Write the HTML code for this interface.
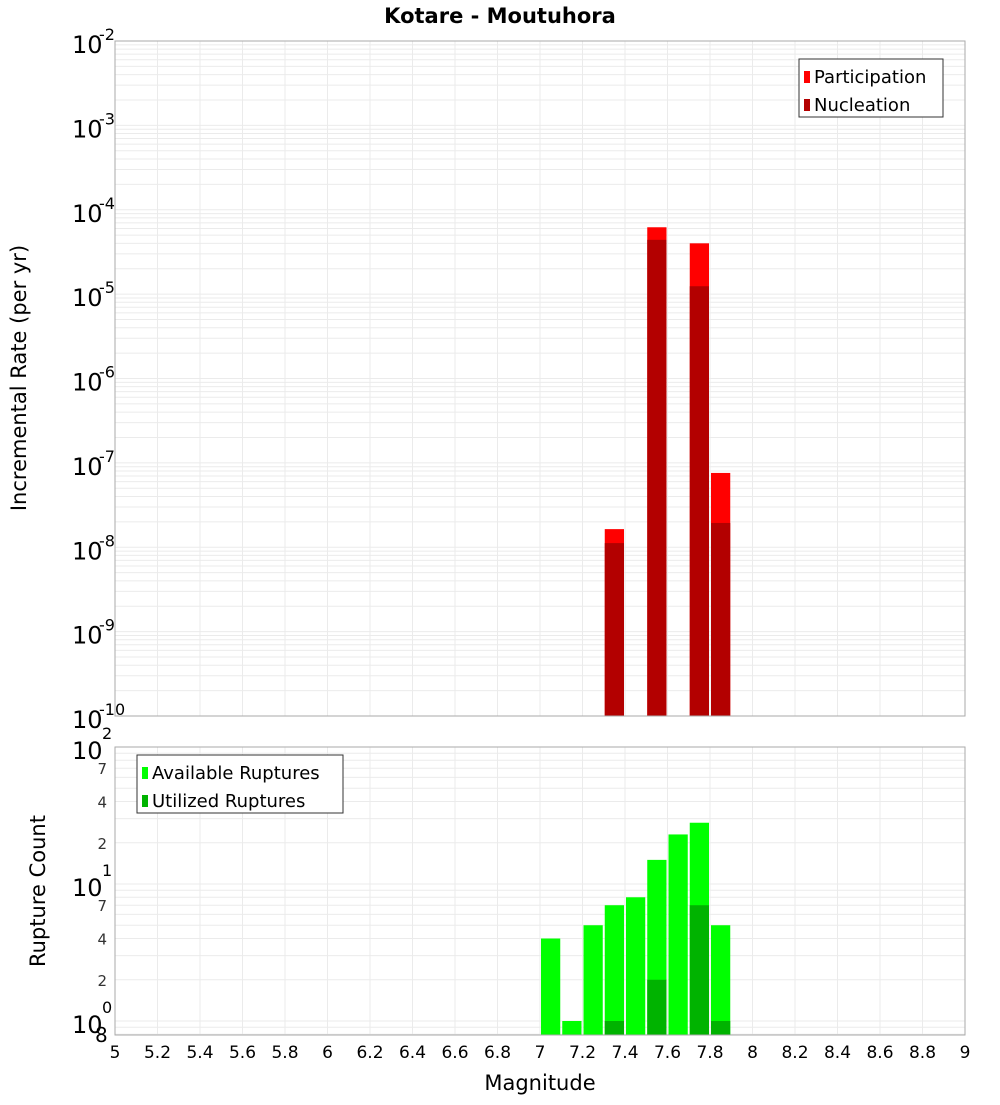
<!DOCTYPE html>
<html><head><meta charset="utf-8"><style>
body{margin:0;background:#fff;}
svg{font-family:"DejaVu Sans","Liberation Sans",sans-serif;}
</style></head><body>
<svg id="c" width="1000" height="1100" xmlns="http://www.w3.org/2000/svg"></svg>
<script>
const magBins=[7.35,7.55,7.75,7.85];
const participation=[1.64e-8,6.2e-5,4.0e-5,7.6e-8];
const nucleation=[1.12e-8,4.4e-5,1.24e-5,1.94e-8];
const countBins=[7.05,7.15,7.25,7.35,7.45,7.55,7.65,7.75,7.85];
const available=[4,1,5,7,8,15,23,28,5];
const utilized=[0,0,0,1,0,2,0,7,1];
const xTicks=["5","5.2","5.4","5.6","5.8","6","6.2","6.4","6.6","6.8","7","7.2","7.4","7.6","7.8","8","8.2","8.4","8.6","8.8","9"];

const svg=document.getElementById('c');
const NS='http://www.w3.org/2000/svg';
function mk(t,a,p){const e=document.createElementNS(NS,t);for(const k in a)e.setAttribute(k,a[k]);(p||svg).appendChild(e);return e;}
const X0=115,X1=965;
const x=m=>X0+(m-5)/4*(X1-X0);
const T0=41,T1=716;
const yT=v=>T1-(Math.log10(v)+10)/8*(T1-T0);
const B0=747,B1=1035,BD=137;
const yB=v=>B0+(2-Math.log10(v))*BD;

// plot backgrounds
mk('rect',{x:X0,y:T0,width:X1-X0,height:T1-T0,fill:'#fff'});
mk('rect',{x:X0,y:B0,width:X1-X0,height:B1-B0,fill:'#fff'});
// grids
const g=mk('g',{stroke:'#ebebeb','stroke-width':1});


for(let i=0;i<=20;i++){const xx=x(5+i*0.2);mk('line',{x1:xx,x2:xx,y1:T0,y2:T1},g);mk('line',{x1:xx,x2:xx,y1:B0,y2:B1},g);}
for(let d=-10;d<-2;d++)for(let k=1;k<10;k++){const yy=yT(k*Math.pow(10,d));mk('line',{x1:X0,x2:X1,y1:yy,y2:yy},g);}
for(let d=-1;d<2;d++)for(let k=1;k<10;k++){const yy=yB(k*Math.pow(10,d));if(yy<=B1&&yy>=B0)mk('line',{x1:X0,x2:X1,y1:yy,y2:yy},g);}

// top bars
magBins.forEach((m,i)=>{
 const r=mk('rect',{x:x(m-0.05)+1,y:yT(participation[i]),width:x(m+0.05)-x(m-0.05)-2,height:T1-yT(participation[i]),fill:'#ff0000'});
 
 
 const n=mk('rect',{x:x(m-0.05)+1,y:yT(nucleation[i]),width:x(m+0.05)-x(m-0.05)-2,height:T1-yT(nucleation[i]),fill:'#b30000'});
 
 
});
// bottom bars
countBins.forEach((m,i)=>{
 const a=mk('rect',{x:x(m-0.05)+1,y:yB(available[i]),width:x(m+0.05)-x(m-0.05)-2,height:B1-yB(available[i]),fill:'#00ff00'});
 
 
 if(utilized[i]>0){
 const u=mk('rect',{x:x(m-0.05)+1,y:yB(utilized[i]),width:x(m+0.05)-x(m-0.05)-2,height:B1-yB(utilized[i]),fill:'#00b300'});
 
 }
});
// frames
mk('rect',{x:X0,y:T0,width:X1-X0,height:T1-T0,fill:'none',stroke:'#aaa'});
mk('rect',{x:X0,y:B0,width:X1-X0,height:B1-B0,fill:'none',stroke:'#aaa'});

// x ticks
xTicks.forEach((t,i)=>{const tx=mk('text',{x:x(+t),y:1058,'font-size':17,'text-anchor':'middle',fill:'#000'});tx.textContent=t;
 
 });

// top y labels
for(let d=-10;d<=-2;d++){const yy=yT(Math.pow(10,d));
 const t=mk('text',{x:72,y:yy+12,'font-size':24,fill:'#000'});
 t.textContent='10';
 
 
 const s=mk('text',{x:99,y:yy-1,'font-size':16,fill:'#000'});s.textContent=String(d);}
// bottom y labels
[[100,'10','2'],[10,'10','1'],[1,'10','0']].forEach(([v,b,e])=>{const yy=yB(v);
 const t=mk('text',{x:72,y:yy+12,'font-size':24,fill:'#000'});t.textContent=b;
 
 
 const s=mk('text',{x:102,y:yy-8,'font-size':16,fill:'#000'});s.textContent=e;});
[[70,'7'],[40,'4'],[20,'2'],[7,'7'],[4,'4'],[2,'2']].forEach(([v,l])=>{const t=mk('text',{x:107,y:yB(v)+6,'font-size':15,'text-anchor':'end',fill:'#333'});t.textContent=l;});
{const t=mk('text',{x:95,y:1042,'font-size':20,fill:'#000'});t.textContent='8';}

// titles
{const t=mk('text',{x:500,y:23,'font-size':21,'font-weight':'bold','text-anchor':'middle',fill:'#000'});t.textContent='Kotare - Moutuhora';
 }
{const t=mk('text',{x:540,y:1090,'font-size':21,'text-anchor':'middle',fill:'#000'});t.textContent='Magnitude';
 }
{const t=mk('text',{x:0,y:0,'font-size':21,'text-anchor':'middle',fill:'#000',transform:'translate(26,378) rotate(-90)'});t.textContent='Incremental Rate (per yr)';
 }
{const t=mk('text',{x:0,y:0,'font-size':21,'text-anchor':'middle',fill:'#000',transform:'translate(45,891) rotate(-90)'});t.textContent='Rupture Count';
 }

// legends
function legend(x0,y0,w,items,name){const lg=mk('g',{});
 
 
 mk('rect',{x:x0,y:y0,width:w,height:58,fill:'#fff',stroke:'#333'},lg);
 items.forEach(([c,l],i)=>{mk('rect',{x:x0+5,y:y0+12+i*28,width:6,height:12,fill:c},lg);
 const t=mk('text',{x:x0+15,y:y0+24+i*28,'font-size':18,fill:'#000'},lg);t.textContent=l;});}
legend(799,59,144,[['#ff0000','Participation'],['#b30000','Nucleation']],'rate-legend');
legend(137,755,206,[['#00ff00','Available Ruptures'],['#00b300','Utilized Ruptures']],'count-legend');
</script>
</body></html>
